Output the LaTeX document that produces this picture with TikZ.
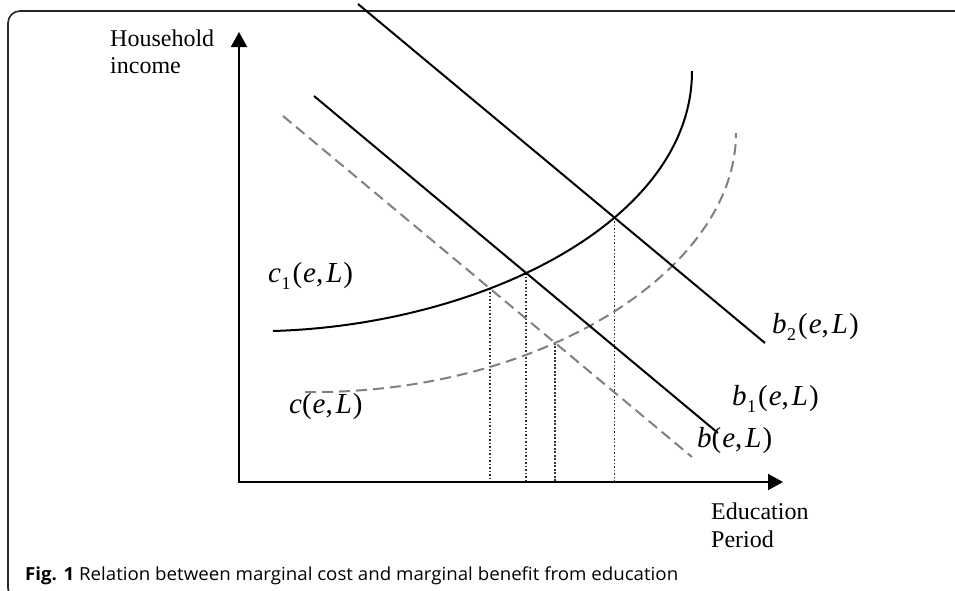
\documentclass[tikz,border=0pt]{standalone}
\usepackage{fontspec}
\setmainfont{Liberation Serif}
\newfontfamily\capfont{Open Sans}
\usetikzlibrary{arrows.meta,intersections}
\newcommand\lsub[1]{\kern0.5pt\raisebox{-0.27em}{\fontsize{18}{18}\selectfont #1}\kern2pt}
\newcommand\lab[3]{\textit{#1}#2(\kern1pt\textit{e},\kern3pt\textit{L}\kern1pt)}
\begin{document}
\begin{tikzpicture}[x=1pt,y=-1pt,
  axis/.style={line width=2pt, {Triangle[length=15pt,width=16pt]}-{Triangle[length=15pt,width=16pt]}},
  solidcurve/.style={line width=2pt, black},
  dashcurve/.style={line width=2pt, black!50, dash pattern=on 11pt off 6pt},
  dropline/.style={line width=1.7pt, black!80, dash pattern=on 1.6pt off 1.9pt},
  lbl/.style={anchor=base west, inner sep=0pt, font=\fontsize{29}{29}\selectfont},
  axlbl/.style={anchor=base west, inner sep=0pt, font=\fontsize{24}{27}\selectfont}]
\useasboundingbox (0,0) rectangle (955,590);
\clip (0,0) rectangle (955,590);
\fill[white] (0,0) rectangle (955,590);
\draw[line width=1.6pt, black!85, rounded corners=12pt] (8,11) rectangle (975,600);

% axes
\coordinate (O) at (239,482);
\coordinate (ytop) at (239,32);
\coordinate (xend) at (783,482);

% curves and lines (named paths)
\path[name path=b2] (358,4) coordinate (b2s) -- (765,343) coordinate (b2e);
\path[name path=b1] (314,96) coordinate (b1s) -- (718,433) coordinate (b1e);
\path[name path=bd] (283,116) coordinate (bds) -- (692,457) coordinate (bde);
\path[name path=c1] (273,331) coordinate (c1s) .. controls (480,325) and (692,222) .. (692,71) coordinate (c1e);
\path[name path=cd] (305,392) coordinate (cds) .. controls (540,395) and (736,270) .. (736,133) coordinate (cde);

\path[name intersections={of=c1 and bd, by=i1}];
\path[name intersections={of=c1 and b1, by=i2}];
\path[name intersections={of=cd and bd, by=i3}];
\path[name intersections={of=c1 and b2, by=i4}];

% drop lines
\foreach \p in {i1,i2,i3,i4} \draw[dropline] (\p) -- (\p |- O);

% dashed
\draw[dashcurve] (bds) -- (bde);
\draw[dashcurve] (cds) .. controls (540,395) and (736,270) .. (cde);

% solid
\draw[solidcurve] (b2s) -- (b2e);
\draw[solidcurve] (b1s) -- (b1e);
\draw[solidcurve] (c1s) .. controls (480,325) and (692,222) .. (c1e);

\draw[axis] (ytop) -- (O) -- (xend);

% labels
\node[axlbl] (ylab1) at (110,46) {Household};
\node[axlbl] (ylab2) at (110,73) {income};
\node[axlbl] (xlab1) at (711,519) {Education};
\node[axlbl] (xlab2) at (711,547) {Period};

\node[lbl] (c1lab) at (268,282) {\lab{c}{\lsub{1}}{}};
\node[lbl] (cdlab) at (289,413) {\lab{c}{}{}};
\node[lbl] (b2lab) at (772,333) {\lab{b}{\lsub{2}}{}};
\node[lbl] (b1lab) at (732,405) {\lab{b}{\lsub{1}}{}};
\node[lbl] (bdlab) at (697,447) {\lab{b}{}{}};

\node[anchor=base west, inner sep=0pt] (cap) at (25,580)
  {\resizebox{653pt}{\height}{\capfont\fontsize{18}{18}\selectfont\textbf{Fig. 1} Relation between marginal cost and marginal benefit from education}};
\end{tikzpicture}
\end{document}
